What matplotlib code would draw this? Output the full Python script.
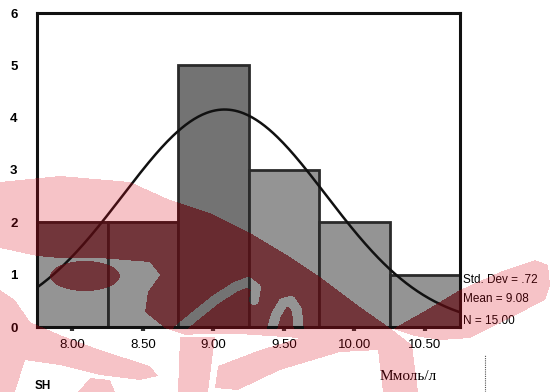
import numpy as np
import matplotlib
matplotlib.use("Agg")
import matplotlib.pyplot as plt
from matplotlib.path import Path

# Histogram data (bin centres, counts) and summary statistics
bin_centers = [8.00, 8.50, 9.00, 9.50, 10.00, 10.50]
counts = [2, 2, 5, 3, 2, 1]
bin_width = 0.5
std_dev = 0.72
mean = 9.08
n_total = 15
x_tick_labels = ["8.00", "8.50", "9.00", "9.50", "10.00", "10.50"]
y_ticks = [0, 1, 2, 3, 4, 5, 6]
x_label = "Ммоль/л"

W, H = 558, 392
fig = plt.figure(figsize=(W / 100, H / 100), dpi=100)
fig.patch.set_facecolor("white")
ax = fig.add_axes([37 / W, 1 - 327 / H, (460 - 37) / W, (327 - 13) / H])

bar_grey = "#949494"
bar_colors = [bar_grey, bar_grey, "#737373", bar_grey, bar_grey, bar_grey]
bars = ax.bar(bin_centers, counts, width=bin_width, color=bar_colors,
              edgecolor="#2a2a2a", linewidth=2.0, zorder=2)

# Normal curve scaled to the histogram
lo = bin_centers[0] - bin_width / 2
hi = bin_centers[-1] + bin_width / 2
xs = np.linspace(lo, hi, 300)
ys = n_total * bin_width / (std_dev * np.sqrt(2 * np.pi)) * np.exp(-0.5 * ((xs - mean) / std_dev) ** 2)
ax.plot(xs, ys, color="#111111", linewidth=1.8, zorder=3)

ax.set_xlim(lo, hi)
ax.set_ylim(0, 6)
ax.set_xticks(bin_centers)
ax.set_xticklabels(x_tick_labels, fontsize=9.5, family="Liberation Sans")
ax.set_yticks(y_ticks)
ax.set_yticklabels([str(v) for v in y_ticks], fontsize=9.5, family="Liberation Sans",
                   fontweight="bold")
ax.tick_params(axis="x", length=3, width=3, color="#333333", pad=6)
ax.tick_params(axis="y", length=0, pad=14)
for s in ax.spines.values():
    s.set_linewidth(2.2)
    s.set_color("#111111")

# Summary statistics beside the plot
stats = [f"Std. Dev = {std_dev:.2f}".replace("0.", "."),
         f"Mean = {mean:.2f}", f"N = {n_total:.2f}"]
for txt, yp in zip(stats, [280, 299, 321]):
    fig.text(463 / W, 1 - yp / H, txt, fontsize=8.5, family="Liberation Sans",
             va="center", ha="left")

fig.text(408 / W, 1 - 377 / H, x_label, fontsize=11, family="Liberation Serif",
         ha="center", va="center")
fig.text(35 / W, 0.0, "SH", fontsize=8.5, family="Liberation Sans",
         fontweight="bold", ha="left", va="bottom")
fig.add_artist(plt.Line2D([485 / W, 485 / W], [0, 1 - 355 / H], color="#555555",
                          linewidth=0.8, linestyle=(0, (1, 1)),
                          transform=fig.transFigure))

# ---- Pink watermark logo printed over the page (pixel coords, top-left origin) ----
logo_shapes = [
    # main swoosh
    [(0, 182), (60, 176), (130, 182), (170, 200), (210, 213), (250, 233),
     (290, 257), (320, 277), (360, 307), (390, 328), (412, 345), (418, 392),
     (383, 392), (378, 350), (340, 352), (280, 370), (238, 390), (215, 388),
     (218, 366), (260, 350), (300, 338), (240, 334), (200, 334), (185, 335),
     (165, 328), (145, 312), (148, 292), (160, 275), (150, 262), (100, 258),
     (60, 258), (37, 256), (0, 248)],
    # stroke under the 9.00 label
    [(180, 337), (215, 337), (212, 360), (208, 392), (178, 392)],
    # right swoosh through the last bar
    [(393, 329), (430, 308), (460, 290), (500, 272), (535, 260), (548, 265),
     (550, 285), (545, 300), (510, 318), (470, 338), (440, 340), (415, 336)],
    # lower-left curl
    [(0, 290), (15, 300), (30, 322), (60, 335), (100, 350), (150, 366),
     (158, 376), (140, 380), (100, 375), (60, 365), (25, 360), (15, 392),
     (0, 392)],
    [(78, 392), (90, 378), (110, 380), (115, 392)],
]
t = np.linspace(0, 2 * np.pi, 40)
logo_shapes.append(list(zip(85 + 35 * np.cos(t), 276 + 15 * np.sin(t))))

# grey gaps of the logo inside the 9.00 and 9.50 bars
logo_gaps = [
    [(178, 330), (195, 316), (215, 300), (235, 287), (248, 282), (256, 288), (254, 300)],
    [(271, 332), (276, 315), (283, 303), (291, 301), (297, 310), (299, 332)],
]
gap_half_width = 5.0

gx, gy = np.meshgrid(np.arange(W) + 0.5, np.arange(H) + 0.5)
pix = np.column_stack([gx.ravel(), gy.ravel()])

logo = np.zeros(W * H, dtype=bool)
for pts in logo_shapes:
    logo |= Path(pts).contains_points(pix)
logo = logo.reshape(H, W)

# pixel extent of every bar, taken from the axes transform
fig.canvas.draw()
on_bar = np.zeros((H, W), dtype=bool)
for b in bars:
    (x0, y0), (x1, y1) = ax.transData.transform(
        [(b.get_x(), 0), (b.get_x() + b.get_width(), b.get_height())])
    on_bar |= (gx >= x0 - 1.5) & (gx <= x1 + 1.5) & (gy >= H - y1 - 1.5) & (gy <= H - y0 + 1.5)

gap = np.zeros((H, W), dtype=bool)
for pts in logo_gaps:
    pts = np.asarray(pts, dtype=float)
    for (ax0, ay0), (ax1, ay1) in zip(pts[:-1], pts[1:]):
        dx, dy = ax1 - ax0, ay1 - ay0
        u = np.clip(((gx - ax0) * dx + (gy - ay0) * dy) / (dx * dx + dy * dy), 0, 1)
        d = np.hypot(gx - (ax0 + u * dx), gy - (ay0 + u * dy))
        gap |= d <= gap_half_width
logo &= ~(gap & on_bar)

overlay = np.zeros((H, W, 4))
light = logo & ~on_bar
dark = logo & on_bar
overlay[light] = (0.87, 0.05, 0.12, 0.25)
overlay[dark] = (0.39, 0.04, 0.07, 0.68)
fig.figimage(overlay, xo=0, yo=0, origin="upper", zorder=10, resize=False)

fig.savefig("out.png", dpi=100, facecolor="white")
